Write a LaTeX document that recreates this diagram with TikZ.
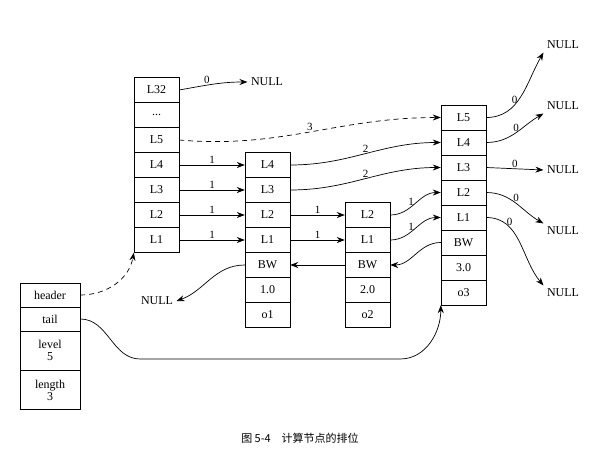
\documentclass[tikz,border=0pt]{standalone}
\usepackage{fontspec}
\setmainfont{Liberation Serif}
\newfontfamily\cjk{Noto Sans CJK SC}
\usetikzlibrary{arrows.meta}
\begin{document}
\begin{tikzpicture}[x=1pt,y=-1pt,
  cell/.style={draw,minimum width=45pt,minimum height=25pt,inner sep=0pt,font=\fontsize{12}{13}\selectfont},
  tall/.style={cell,minimum height=39pt,align=center},
  lbl/.style={font=\fontsize{12}{13}\selectfont},
  arr/.style={-{Stealth[length=8pt,width=6pt]},line width=0.7pt},
  dsh/.style={dash pattern=on 5pt off 4pt},
  lab/.style={font=\fontsize{11}{12}\selectfont,above,inner sep=1pt}]
\useasboundingbox (0,0) rectangle (600,453);
% header list
\node[cell,minimum width=60pt,minimum height=24pt] (hd) at (50,295) {header};
\node[cell,minimum width=60pt,minimum height=24pt] (tl) at (50,319) {tail};
\node[tall,minimum width=60pt,text width=58pt,font=\fontsize{12}{12}\selectfont] (lv) at (50,350.5) {level\\5};
\node[tall,minimum width=60pt,text width=58pt,font=\fontsize{12}{12}\selectfont] (ln) at (50,390) {length\\3};
% left header node
\node[cell] (a32) at (156.5,90) {L32};
\node[cell] (ad) at (156.5,115) {...};
\foreach \n/\t [count=\i from 2] in {a5/L5,a4/L4,a3/L3,a2/L2,a1/L1}
  \node[cell] (\n) at (156.5,90+25*\i) {\t};
% o1
\foreach \n/\t [count=\i from 0] in {b4/L4,b3/L3,b2/L2,b1/L1,bb/BW,bs/1.0,bo/o1}
  \node[cell] (\n) at (267.5,165+25*\i) {\t};
% o2
\foreach \n/\t [count=\i from 0] in {c2/L2,c1/L1,cb/BW,cs/2.0,co/o2}
  \node[cell] (\n) at (367.5,215+25*\i) {\t};
% o3
\foreach \n/\t [count=\i from 0] in {d5/L5,d4/L4,d3/L3,d2/L2,d1/L1,db/BW,ds/3.0,do/o3}
  \node[cell] (\n) at (463.5,117.5+25*\i) {\t};
% NULLs
\node[lbl] (n0) at (267,82) {NULL};
\node[lbl] (nl) at (157,301) {NULL};
\node[lbl] (r5) at (563,45) {NULL};
\node[lbl] (r4) at (563,106) {NULL};
\node[lbl] (r3) at (563,170) {NULL};
\node[lbl] (r2) at (563,231) {NULL};
\node[lbl] (r1) at (563,293) {NULL};
% level arrows
\draw[arr] (a32.east) to[out=10,in=180] node[lab,pos=0.4] {0} (n0.west);
\draw[arr,dsh] (a5.east) to[out=-5,in=180] node[lab,pos=0.5] {3} (d5.west);
\draw[arr] (a4.east) -- node[lab] {1} (b4.west);
\draw[arr] (a3.east) -- node[lab] {1} (b3.west);
\draw[arr] (a2.east) -- node[lab] {1} (b2.west);
\draw[arr] (a1.east) -- node[lab] {1} (b1.west);
\draw[arr] (b4.east) to[out=0,in=180] node[lab,pos=0.5] {2} (d4.west);
\draw[arr] (b3.east) to[out=0,in=180] node[lab,pos=0.5] {2} (d3.west);
\draw[arr] (b2.east) -- node[lab] {1} (c2.west);
\draw[arr] (b1.east) -- node[lab] {1} (c1.west);
\draw[arr] (c2.east) to[out=0,in=180] node[lab,pos=0.4] {1} (d2.west);
\draw[arr] (c1.east) to[out=0,in=180] node[lab,pos=0.4] {1} (d1.west);
% backward
\draw[arr] (db.west) to[out=180,in=0] (cb.east);
\draw[arr] (cb.west) -- (bb.east);
\draw[arr] (bb.west) to[out=180,in=20] (nl.east);
% to NULL right
\draw[arr] (d5.east) to[out=0,in=240] node[lab,pos=0.45,left] {0} (r5.south west);
\draw[arr] (d4.east) to[out=0,in=210] node[lab,pos=0.5] {0} (r4.south west);
\draw[arr] (d3.east) -- node[lab] {0} (r3.west);
\draw[arr] (d2.east) to[out=0,in=150] node[lab,pos=0.5] {0} (r2.north west);
\draw[arr] (d1.east) to[out=0,in=130] node[lab,pos=0.3] {0} (r1.north west);
% header / tail
\draw[arr,dsh] (hd.east) to[out=0,in=260] (a1.south west);
\draw[arr] (tl.east) to[out=0,in=180] ++(60,40) coordinate (m) -- (400,359) coordinate (k) to[out=0,in=270] (do.south west);
% caption
\node[font=\fontsize{11}{12}\selectfont] (cap) at (300,438) {\cjk 图 5-4\quad 计算节点的排位};
\end{tikzpicture}
\end{document}
